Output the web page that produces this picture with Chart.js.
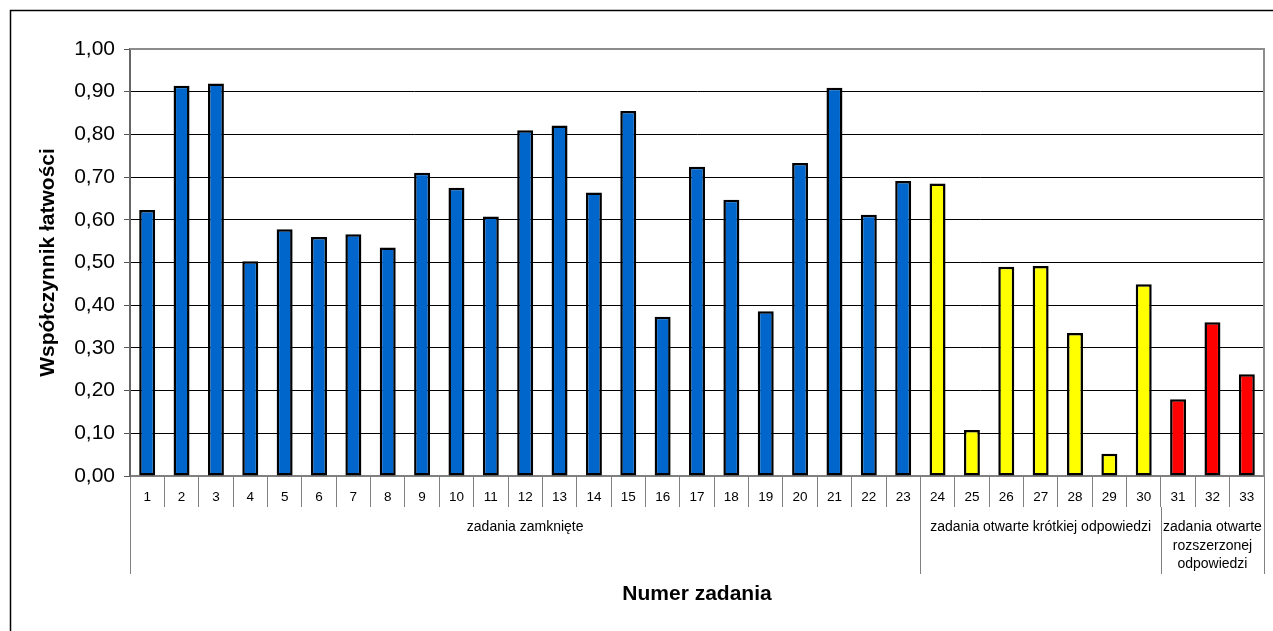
<!DOCTYPE html>
<html lang="pl">
<head>
<meta charset="utf-8">
<title>Współczynnik łatwości zadań</title>
<script src="https://cdn.jsdelivr.net/npm/chart.js@4/dist/chart.umd.min.js"></script>
<style>
  html, body { margin: 0; padding: 0; background: #ffffff; }
  canvas { display: block; }
</style>
</head>
<body>
<canvas id="chart" width="1273" height="631"></canvas>
<script>
// Task numbers shown under the bars
const taskNumbers = ['1','2','3','4','5','6','7','8','9','10','11','12','13','14','15','16','17',
  '18','19','20','21','22','23','24','25','26','27','28','29','30','31','32','33'];

// Easiness coefficient per task, split by task type
const closedTasks = [0.623, 0.914, 0.919, 0.503, 0.578, 0.560, 0.566, 0.535, 0.710, 0.675, 0.608,
  0.810, 0.821, 0.664, 0.855, 0.373, 0.724, 0.647, 0.386, 0.733, 0.909, 0.612, 0.691];
const shortAnswerTasks = [0.685, 0.108, 0.490, 0.492, 0.335, 0.052, 0.449];
const extendedAnswerTasks = [0.180, 0.360, 0.238];

// Group captions drawn under the task numbers (one entry per line)
const groupCaptions = [
  ['zadania zamknięte'],
  ['zadania otwarte krótkiej odpowiedzi'],
  ['zadania otwarte', 'rozszerzonej', 'odpowiedzi']
];
const groupColors = ['#0066CC', '#FFFF00', '#FF0000'];

const yTitle = 'Współczynnik łatwości';
const xTitle = 'Numer zadania';

const FONT = '"Liberation Sans", Arial, Helvetica, sans-serif';

// Place each group's values at its own task positions
const groups = [closedTasks, shortAnswerTasks, extendedAnswerTasks];
const datasets = [];
let start = 0;
const groupRanges = [];
groups.forEach((vals, g) => {
  const data = taskNumbers.map(() => null);
  vals.forEach((v, i) => { data[start + i] = v; });
  groupRanges.push([start, start + vals.length - 1]);
  datasets.push({
    label: groupCaptions[g].join(' '),
    data,
    backgroundColor: groupColors[g],
    borderColor: '#000000',
    borderWidth: 2.5,
    borderSkipped: false,
    grouped: false,
    barPercentage: 0.465,
    categoryPercentage: 1.0
  });
  start += vals.length;
});

// Frame, plot border and the category table under the x axis
const decorations = {
  id: 'decorations',
  afterDraw(chart) {
    const { ctx, chartArea: a } = chart;
    const x = chart.scales.x;
    ctx.save();

    // outer frame
    ctx.strokeStyle = '#000000';
    ctx.lineWidth = 1.5;
    ctx.beginPath();
    ctx.moveTo(10.5, chart.height + 2);
    ctx.lineTo(10.5, 10.5);
    ctx.lineTo(chart.width + 2, 10.5);
    ctx.stroke();

    // plot area border (top and right)
    ctx.strokeStyle = '#8c8c8c';
    ctx.lineWidth = 2;
    ctx.beginPath();
    ctx.moveTo(a.left, a.top);
    ctx.lineTo(a.right, a.top);
    ctx.lineTo(a.right, a.bottom);
    ctx.stroke();

    // group separators and captions
    const half = (x.getPixelForValue(1) - x.getPixelForValue(0)) / 2;
    const sepTop = a.bottom + 31;
    const sepBottom = a.bottom + 98;
    ctx.strokeStyle = '#808080';
    ctx.lineWidth = 1;
    const edges = [];
    groupRanges.forEach(([s, e]) => {
      edges.push(x.getPixelForValue(s) - half);
      edges.push(x.getPixelForValue(e) + half);
    });
    [...new Set(edges.map(v => Math.round(v)))].forEach(px => {
      ctx.beginPath();
      ctx.moveTo(px + 0.5, sepTop);
      ctx.lineTo(px + 0.5, sepBottom);
      ctx.stroke();
    });

    ctx.fillStyle = '#000000';
    ctx.font = '14px ' + FONT;
    ctx.textAlign = 'center';
    ctx.textBaseline = 'middle';
    groupRanges.forEach(([s, e], g) => {
      const cx = (x.getPixelForValue(s) - half + x.getPixelForValue(e) + half) / 2;
      groupCaptions[g].forEach((line, i) => {
        ctx.fillText(line, cx, a.bottom + 51.5 + i * 18.5);
      });
    });
    ctx.restore();
  }
};

new Chart(document.getElementById('chart'), {
  type: 'bar',
  data: { labels: taskNumbers, datasets },
  plugins: [decorations],
  options: {
    responsive: false,
    animation: false,
    devicePixelRatio: 1,
    layout: { padding: { top: 49, right: 9, bottom: 0, left: 0 } },
    plugins: {
      legend: { display: false },
      tooltip: { enabled: false }
    },
    scales: {
      x: {
        offset: true,
        grid: {
          offset: true,
          drawOnChartArea: false,
          drawTicks: true,
          tickLength: 31,
          color: '#808080',
          lineWidth: 1
        },
        border: { display: true, color: '#808080', width: 2 },
        ticks: {
          autoSkip: false,
          maxRotation: 0,
          minRotation: 0,
          padding: -18,
          color: '#000000',
          font: { family: FONT, size: 13.5 }
        },
        title: {
          display: true,
          text: xTitle,
          color: '#000000',
          font: { family: FONT, size: 21, weight: 'bold' },
          padding: { top: 0, bottom: 24 }
        },
        afterFit(scale) { scale.height = 155; }
      },
      y: {
        min: 0,
        max: 1,
        ticks: {
          stepSize: 0.1,
          padding: 9,
          color: '#000000',
          font: { family: FONT, size: 21 },
          callback: v => Number(v).toFixed(2).replace('.', ',')
        },
        grid: {
          color: '#000000',
          tickColor: '#555555',
          lineWidth: 1,
          tickLength: 6
        },
        border: { display: true, color: '#666666', width: 2 },
        title: {
          display: true,
          text: yTitle,
          color: '#000000',
          font: { family: FONT, size: 21, weight: 'bold' },
          padding: { top: 36, bottom: 0 }
        },
        afterFit(scale) { scale.width = 130; }
      }
    }
  }
});
</script>
</body>
</html>
